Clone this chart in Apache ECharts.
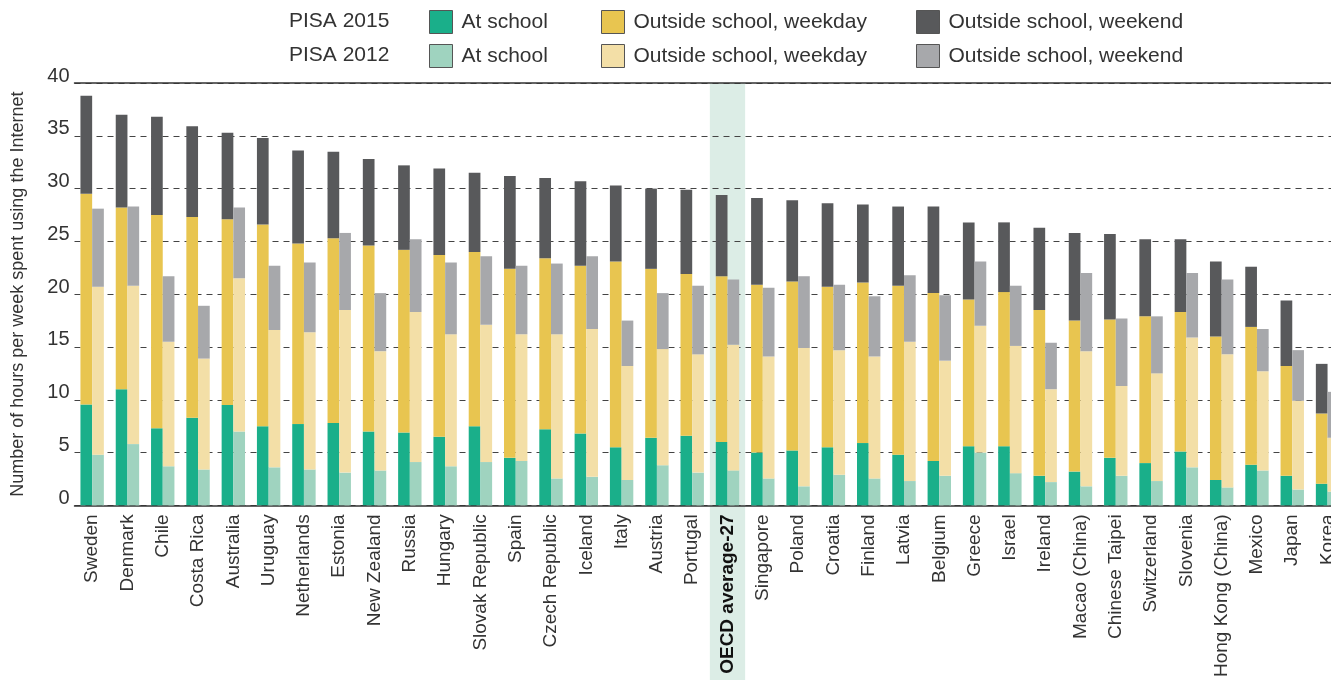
<!DOCTYPE html>
<html>
<head>
<meta charset="utf-8">
<script src="https://cdn.jsdelivr.net/npm/echarts@6/dist/echarts.min.js"></script>
<style>
html,body{margin:0;padding:0;overflow:hidden;background:#fff;}
#chart{width:1360px;height:680px;}
</style>
</head>
<body>
<div id="chart"></div>
<script>
var categories = ['Sweden','Denmark','Chile','Costa Rica','Australia','Uruguay','Netherlands','Estonia','New Zealand','Russia','Hungary','Slovak Republic','Spain','Czech Republic','Iceland','Italy','Austria','Portugal','OECD average-27','Singapore','Poland','Croatia','Finland','Latvia','Belgium','Greece','Israel','Ireland','Macao (China)','Chinese Taipei','Switzerland','Slovenia','Hong Kong (China)','Mexico','Japan','Korea'];

// PISA 2015 (hours per week)
var school2015  = [9.55,11.0,7.3,8.3,9.5,7.5,7.7,7.8,7.0,6.9,6.5,7.5,4.5,7.2,6.8,5.5,6.4,6.6,6.0,5.0,5.2,5.5,5.9,4.8,4.2,5.6,5.6,2.8,3.2,4.5,4.0,5.1,2.4,3.85,2.8,2.05];
var weekday2015 = [19.95,17.2,20.2,19.0,17.6,19.1,17.1,17.5,17.6,17.3,17.2,16.5,17.9,16.2,15.9,17.6,16.0,15.3,15.7,15.9,16.0,15.2,15.2,16.0,15.9,13.9,14.6,15.7,14.3,13.1,13.9,13.2,13.6,13.05,10.4,6.65];
var weekend2015 = [9.3,8.8,9.3,8.6,8.2,8.2,8.8,8.2,8.2,8.0,8.2,7.5,8.8,7.6,8.0,7.2,7.6,8.0,7.7,8.2,7.7,7.9,7.4,7.5,8.2,7.3,6.6,7.8,8.3,8.1,7.3,6.9,7.1,5.7,6.2,4.7];

// PISA 2012 (hours per week)
var school2012  = [4.8,5.8,3.7,3.4,7.0,3.6,3.4,3.1,3.3,4.1,3.7,4.1,4.2,2.55,2.7,2.4,3.8,3.1,3.3,2.55,1.8,2.9,2.55,2.3,2.8,5.0,3.05,2.2,1.8,2.8,2.3,3.6,1.7,3.3,1.5,1.3];
var weekday2012 = [15.9,15.0,11.8,10.5,14.5,13.0,13.0,15.4,11.3,14.2,12.5,13.0,12.0,13.65,14.0,10.8,11.0,11.2,11.9,11.55,13.1,11.8,11.55,13.2,10.9,12.0,12.05,8.8,12.8,8.5,10.2,12.3,12.6,9.4,8.4,5.1];
var weekend2012 = [7.4,7.5,6.2,5.0,6.7,6.1,6.6,7.3,5.5,6.9,6.8,6.5,6.5,6.7,6.9,4.3,5.3,6.5,6.2,6.5,6.8,6.2,5.7,6.3,6.2,6.1,5.7,4.4,7.4,6.4,5.4,6.1,7.1,4.0,4.8,4.35];

var yTicks = [0,5,10,15,20,25,30,35,40];
var highlightCategory = 'OECD average-27';
var legendLabels = ['At school','Outside school, weekday','Outside school, weekend'];

var colors2015 = ['#1aaf8a','#e8c550','#58595b'];
var colors2012 = ['#9fd3bf','#f3dfa7','#a7a8ab'];

var FONT = '"Liberation Sans", Arial, sans-serif';
var TXT = '#333333';

function mkSeries(name, stack, data, color) {
  return {
    name: name, type: 'bar', stack: stack, data: data,
    barWidth: 11.7, barGap: '0%',
    itemStyle: { color: color },
    emphasis: { disabled: true }
  };
}

var series = [
  mkSeries('2015|' + legendLabels[0], 's2015', school2015, colors2015[0]),
  mkSeries('2015|' + legendLabels[1], 's2015', weekday2015, colors2015[1]),
  mkSeries('2015|' + legendLabels[2], 's2015', weekend2015, colors2015[2]),
  mkSeries('2012|' + legendLabels[0], 's2012', school2012, colors2012[0]),
  mkSeries('2012|' + legendLabels[1], 's2012', weekday2012, colors2012[1]),
  mkSeries('2012|' + legendLabels[2], 's2012', weekend2012, colors2012[2])
];

var legendX = [429, 601, 916];
var legendY = [10, 44];
var legends = [];
['2015','2012'].forEach(function (yr, r) {
  legendLabels.forEach(function (lab, i) {
    legends.push({
      data: [yr + '|' + lab],
      left: legendX[i], top: legendY[r], padding: 0,
      icon: 'rect', itemWidth: 23, itemHeight: 23,
      selectedMode: false,
      itemStyle: { borderColor: '#555', borderWidth: 1 },
      formatter: function (n) { return n.split('|')[1]; },
      textStyle: { fontSize: 21, color: TXT, fontFamily: FONT, padding: [0,0,0,4] }
    });
  });
});

var chart = echarts.init(document.getElementById('chart'), null, { renderer: 'canvas' });

var option = {
  animation: false,
  backgroundColor: '#fff',
  title: [
    { text: 'PISA 2015', left: 289, top: 11, padding: 0, textStyle: { fontSize: 21, fontWeight: 'normal', color: TXT, fontFamily: FONT } },
    { text: 'PISA 2012', left: 289, top: 45, padding: 0, textStyle: { fontSize: 21, fontWeight: 'normal', color: TXT, fontFamily: FONT } }
  ],
  legend: legends,
  grid: { left: 74.5, right: 14.8, top: 83, bottom: 174, containLabel: false },
  xAxis: [{
    type: 'category', data: categories,
    axisTick: { show: false },
    axisLine: { show: true, lineStyle: { color: '#333', width: 1.5 } },
    axisLabel: {
      rotate: 90, fontSize: 19, color: TXT, fontFamily: FONT, margin: 9, interval: 0,
      formatter: function (v) { return v === highlightCategory ? '{b|' + v + '}' : v; },
      rich: { b: { fontWeight: 'bold', fontSize: 19, color: '#111', fontFamily: FONT } }
    }
  }, {
    type: 'category', data: categories, position: 'top',
    axisTick: { show: false }, axisLabel: { show: false },
    axisLine: { show: true, lineStyle: { color: '#333', width: 1.5 } }
  }],
  yAxis: {
    type: 'value', min: yTicks[0], max: yTicks[yTicks.length - 1], interval: 5,
    name: 'Number of hours per week spent using the Internet',
    nameLocation: 'middle', nameGap: 47,
    nameTextStyle: { fontSize: 18, color: TXT, fontFamily: FONT },
    axisLine: { show: false }, axisTick: { show: false },
    axisLabel: { fontSize: 20, color: TXT, fontFamily: FONT, margin: 5, verticalAlign: 'bottom', lineHeight: 14 },
    splitLine: { show: true, lineStyle: { color: '#444', width: 1, type: [6, 5] } }
  },
  series: series
};
chart.setOption(option);

// highlight band for the OECD average column, computed from the category axis
var idx = categories.indexOf(highlightCategory);
var cx = chart.convertToPixel({ xAxisIndex: 0 }, idx);
var cx2 = chart.convertToPixel({ xAxisIndex: 0 }, idx + 1);
var bw = cx2 - cx;
var yTop = chart.convertToPixel({ yAxisIndex: 0 }, yTicks[yTicks.length - 1]);
chart.setOption({
  graphic: [{
    type: 'rect', silent: true, z: -10, zlevel: 0,
    shape: { x: cx - bw / 2, y: yTop, width: bw, height: chart.getHeight() - yTop },
    style: { fill: '#dcede6' }
  }]
});
</script>
</body>
</html>
